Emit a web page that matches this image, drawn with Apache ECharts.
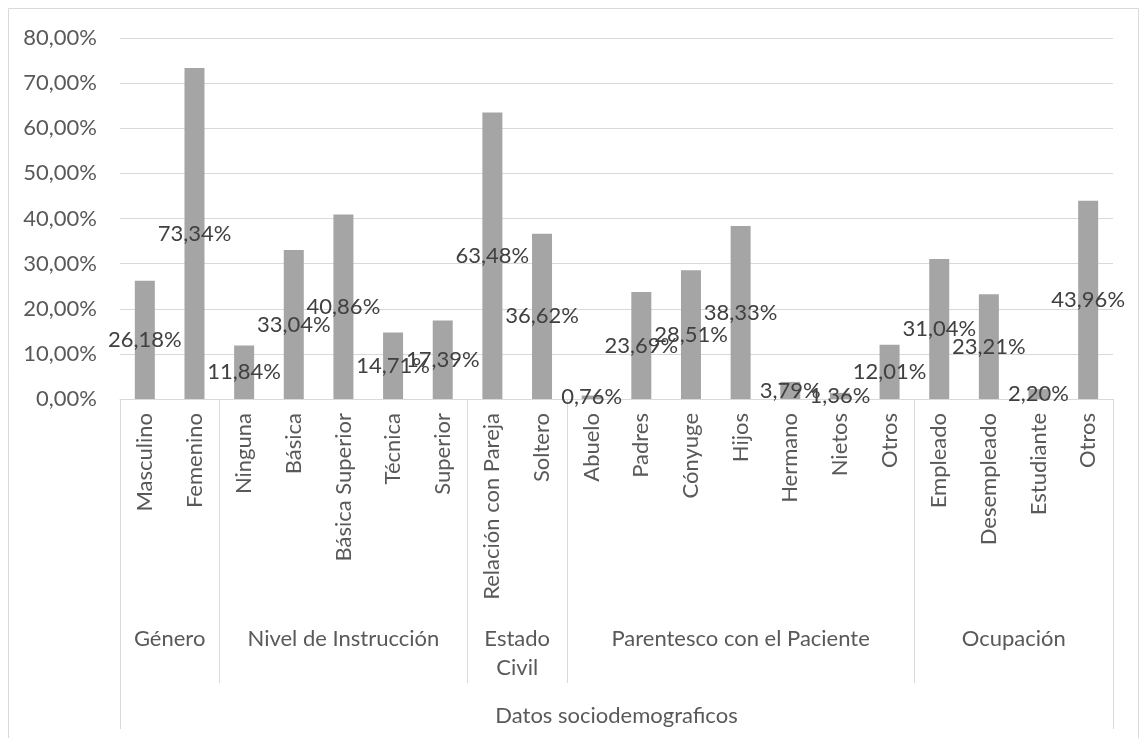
<!DOCTYPE html>
<html>
<head>
<meta charset="utf-8">
<script src="https://cdn.jsdelivr.net/npm/echarts@6/dist/echarts.min.js"></script>
<style>
  html, body { margin: 0; padding: 0; background: #ffffff; }
  #chart { width: 1147px; height: 738px; }
</style>
</head>
<body>
<div id="chart"></div>
<script>
// Sociodemographic data (percent of respondents)
const categories = [
  'Masculino', 'Femenino',
  'Ninguna', 'Básica', 'Básica Superior', 'Técnica', 'Superior',
  'Relación con Pareja', 'Soltero',
  'Abuelo', 'Padres', 'Cónyuge', 'Hijos', 'Hermano', 'Nietos', 'Otros',
  'Empleado', 'Desempleado', 'Estudiante', 'Otros'
];
const values = [
  26.18, 73.34,
  11.84, 33.04, 40.86, 14.71, 17.39,
  63.48, 36.62,
  0.76, 23.69, 28.51, 38.33, 3.79, 1.36, 12.01,
  31.04, 23.21, 2.20, 43.96
];
// Groups: label and number of categories each one spans
const groupNames = ['Género', 'Nivel de Instrucción', 'Estado\nCivil', 'Parentesco con el Paciente', 'Ocupación'];
const groupSizes = [2, 5, 2, 7, 4];
const outerTitle = 'Datos sociodemograficos';
const yTicks = [0, 10, 20, 30, 40, 50, 60, 70, 80];

const FONT = 'Lato';
const FS = 22;
const fmtPct = v => v.toFixed(2).replace('.', ',') + '%';

// group boundaries and centres in category units
const bounds = [0];
groupSizes.forEach(s => bounds.push(bounds[bounds.length - 1] + s));
const centres = groupSizes.map((s, i) => bounds[i] + s / 2);
const innerBounds = bounds.slice(1, -1);
const total = bounds[bounds.length - 1];

const chart = echarts.init(document.getElementById('chart'), null, { renderer: 'canvas' });

const option = {
  backgroundColor: '#ffffff',
  animation: false,
  textStyle: { fontFamily: FONT },
  graphic: [{
    type: 'rect',
    shape: { x: 8.5, y: 8.5, width: 1130, height: 740 },
    style: { fill: 'none', stroke: '#d9d9d9', lineWidth: 1 },
    silent: true
  }],
  grid: { left: 120, right: 34, top: 38, bottom: 339, containLabel: false },
  xAxis: [
    {
      type: 'category',
      data: categories,
      axisLine: { show: true, lineStyle: { color: '#d9d9d9', width: 1 } },
      axisTick: { show: false },
      axisLabel: {
        interval: 0, rotate: 90, margin: 14,
        color: '#595959', fontFamily: FONT, fontSize: FS
      },
      splitLine: { show: false }
    },
    {
      // group row
      type: 'value', position: 'bottom', min: 0, max: total,
      axisLine: { show: false },
      splitLine: { show: false },
      axisTick: {
        show: true, customValues: innerBounds, length: 284,
        lineStyle: { color: '#d9d9d9', width: 1 }
      },
      axisLabel: {
        show: true, customValues: centres, margin: 225,
        color: '#595959', fontFamily: FONT, fontSize: FS, lineHeight: 29, align: 'center',
        formatter: v => {
          const i = centres.findIndex(c => Math.abs(c - v) < 1e-6);
          return i >= 0 ? groupNames[i] : '';
        }
      }
    },
    {
      // outer title row
      type: 'value', position: 'bottom', min: 0, max: total,
      axisLine: { show: false },
      splitLine: { show: false },
      axisTick: {
        show: true, customValues: [0, total], length: 330,
        lineStyle: { color: '#d9d9d9', width: 1 }
      },
      axisLabel: {
        show: true, customValues: [total / 2], margin: 302,
        color: '#595959', fontFamily: FONT, fontSize: FS, lineHeight: 29,
        formatter: () => outerTitle
      }
    }
  ],
  yAxis: {
    type: 'value', min: yTicks[0], max: yTicks[yTicks.length - 1], interval: 10,
    axisLine: { show: false },
    axisTick: { show: false },
    axisLabel: {
      margin: 23, color: '#595959', fontFamily: FONT, fontSize: FS,
      formatter: v => fmtPct(v)
    },
    splitLine: { show: true, lineStyle: { color: '#d9d9d9', width: 1 } }
  },
  series: [{
    type: 'bar',
    xAxisIndex: 0,
    data: values,
    barWidth: 20,
    itemStyle: { color: '#a5a5a5' },
    label: {
      show: true, position: 'inside',
      color: '#404040', fontFamily: FONT, fontSize: FS,
      formatter: p => fmtPct(p.value)
    }
  }]
};

chart.setOption(option);
</script>
</body>
</html>
